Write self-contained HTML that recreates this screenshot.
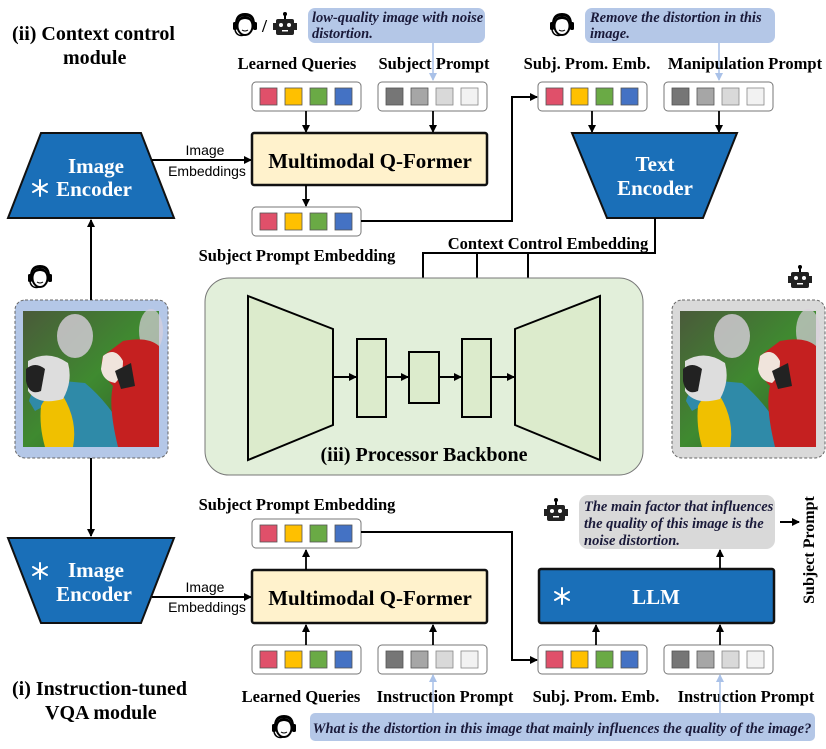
<!DOCTYPE html>
<html><head><meta charset="utf-8"><style>
html,body{margin:0;padding:0;background:#fff;}
svg{display:block;}
.t{font-family:"Liberation Serif",serif;font-weight:bold;fill:#000;}
.s{font-family:"Liberation Sans",sans-serif;fill:#000;}
.i{font-family:"Liberation Serif",serif;font-weight:bold;font-style:italic;fill:#1a1a3a;font-size:14.5px;}
.w{font-family:"Liberation Serif",serif;font-weight:bold;fill:#fff;}
</style></head><body>
<svg width="826" height="749" viewBox="0 0 826 749" xmlns="http://www.w3.org/2000/svg">
<defs>
<marker id="a" markerWidth="8" markerHeight="8" refX="7" refY="4" orient="auto" markerUnits="userSpaceOnUse"><path d="M0,0 L8,4 L0,8 z" fill="#000"/></marker>
<marker id="b" markerWidth="8" markerHeight="8" refX="7" refY="4" orient="auto" markerUnits="userSpaceOnUse"><path d="M0,0 L8,4 L0,8 z" fill="#a9c1e8"/></marker>
<g id="tc">
<rect x="0" y="0" width="109" height="29" rx="4" fill="#fff" stroke="#777" stroke-width="1"/>
<rect x="8" y="6" width="17" height="17" fill="#e0506a" stroke="#555" stroke-width="0.8"/>
<rect x="33" y="6" width="17" height="17" fill="#ffc000" stroke="#555" stroke-width="0.8"/>
<rect x="58" y="6" width="17" height="17" fill="#6aaa45" stroke="#555" stroke-width="0.8"/>
<rect x="83" y="6" width="17" height="17" fill="#4472c4" stroke="#555" stroke-width="0.8"/>
</g>
<g id="tg">
<rect x="0" y="0" width="109" height="29" rx="4" fill="#fff" stroke="#777" stroke-width="1"/>
<rect x="8" y="6" width="17" height="17" fill="#767676" stroke="#555" stroke-width="0.8"/>
<rect x="33" y="6" width="17" height="17" fill="#a6a6a6" stroke="#555" stroke-width="0.8"/>
<rect x="58" y="6" width="17" height="17" fill="#d9d9d9" stroke="#888" stroke-width="0.8"/>
<rect x="83" y="6" width="17" height="17" fill="#f2f2f2" stroke="#888" stroke-width="0.8"/>
</g>
<g id="person">
<path d="M-10,2 Q-11,-12 0,-12 Q11,-12 10,2 L8,2 Q8,-9 0,-9 Q-8,-9 -8,2 z" fill="#000"/>
<ellipse cx="0" cy="1" rx="7.5" ry="9" fill="#fff" stroke="#000" stroke-width="2"/>
<path d="M-7,-3 Q0,-9 7,-3 Q7,-8 0,-9 Q-7,-8 -7,-3 z" fill="#000"/>
<rect x="-12" y="-3" width="4" height="8" rx="1.5" fill="#000"/>
<rect x="8" y="-3" width="4" height="8" rx="1.5" fill="#000"/>
<path d="M-10,5 Q-8,12 -1,10" fill="none" stroke="#000" stroke-width="1.5"/>
<path d="M-3,5 Q0,7 3,5" fill="none" stroke="#000" stroke-width="1"/>
</g>
<g id="robot">
<line x1="0" y1="-12" x2="0" y2="-7" stroke="#000" stroke-width="2"/>
<circle cx="0" cy="-12" r="2" fill="#000"/>
<rect x="-9" y="-7" width="18" height="16" rx="2" fill="#222"/>
<rect x="-12" y="-3" width="3" height="7" fill="#222"/><rect x="9" y="-3" width="3" height="7" fill="#222"/>
<circle cx="-4" cy="-1" r="2" fill="#fff"/><circle cx="4" cy="-1" r="2" fill="#fff"/>
<rect x="-3" y="4" width="6" height="1.5" fill="#fff"/>
</g>
<g id="snow" stroke="#fff" stroke-width="2" stroke-linecap="round">
<line x1="0" y1="-8" x2="0" y2="8"/><line x1="-7" y1="-4" x2="7" y2="4"/><line x1="-7" y1="4" x2="7" y2="-4"/>
</g>
<linearGradient id="bg1" x1="0" y1="0" x2="1" y2="1"><stop offset="0" stop-color="#4a5a3a"/><stop offset="0.5" stop-color="#3f8a30"/><stop offset="1" stop-color="#2f5a28"/></linearGradient>
<g id="parrots">
<rect x="0" y="0" width="136" height="136" fill="url(#bg1)"/>
<ellipse cx="52" cy="25" rx="18" ry="22" fill="#d8d0dc" opacity="0.8"/>
<ellipse cx="128" cy="20" rx="12" ry="22" fill="#d8d0dc" opacity="0.7"/>
<path d="M40,70 Q10,72 6,90 L12,100 L30,90 Q50,120 40,136 L110,136 Q90,95 62,72 z" fill="#2f8aa8"/>
<path d="M18,95 Q25,80 40,85 Q55,110 50,136 L22,136 Q16,115 18,95 z" fill="#f0c000"/>
<path d="M5,50 Q25,38 45,52 Q50,70 40,88 Q15,95 5,80 z" fill="#ddd"/>
<path d="M3,58 Q12,50 22,58 L18,80 Q6,85 3,70 z" fill="#222"/>
<path d="M100,30 Q125,25 136,35 L136,136 L95,136 Q85,95 90,75 Q75,60 80,45 z" fill="#c52020"/>
<path d="M80,45 Q92,35 100,50 Q100,65 92,72 Q80,70 78,58 z" fill="#f0e4dc"/>
<path d="M92,60 L108,52 L112,75 L98,78 z" fill="#222"/>
</g>
</defs>

<!-- Titles -->
<text class="t" x="12" y="40" font-size="20">(ii) Context control</text>
<text class="t" x="63" y="64" font-size="20">module</text>
<text class="t" x="12" y="695" font-size="20">(i) Instruction-tuned</text>
<text class="t" x="45" y="719" font-size="20">VQA module</text>

<!-- Top bubbles -->
<use href="#person" x="245" y="25"/>
<text class="t" x="262" y="32" font-size="18">/</text>
<use href="#robot" x="285" y="26"/>
<rect x="308" y="8" width="177" height="35" rx="7" fill="#b4c7e7"/>
<text class="i" x="312" y="22">low-quality image with noise</text>
<text class="i" x="312" y="38">distortion.</text>
<use href="#person" x="562" y="25"/>
<rect x="585" y="8" width="190" height="35" rx="7" fill="#b4c7e7"/>
<text class="i" x="590" y="22">Remove the distortion in this</text>
<text class="i" x="590" y="38">image.</text>

<line x1="433" y1="43" x2="433" y2="80" stroke="#a9c1e8" stroke-width="1.5" marker-end="url(#b)"/>
<line x1="719" y1="43" x2="719" y2="80" stroke="#a9c1e8" stroke-width="1.5" marker-end="url(#b)"/>

<text class="t" x="297" y="69" font-size="16.5" text-anchor="middle">Learned Queries</text>
<text class="t" x="434" y="69" font-size="16.5" text-anchor="middle">Subject Prompt</text>
<text class="t" x="587" y="69" font-size="16.5" text-anchor="middle">Subj. Prom. Emb.</text>
<text class="t" x="745" y="69" font-size="16.5" text-anchor="middle">Manipulation Prompt</text>

<use href="#tc" x="252" y="82"/>
<use href="#tg" x="378" y="82"/>
<use href="#tc" x="538" y="82"/>
<use href="#tg" x="664" y="82"/>

<line x1="306" y1="111" x2="306" y2="132" stroke="#000" stroke-width="1.8" marker-end="url(#a)"/>
<line x1="433" y1="111" x2="433" y2="132" stroke="#000" stroke-width="1.8" marker-end="url(#a)"/>
<line x1="592" y1="111" x2="592" y2="132" stroke="#000" stroke-width="1.8" marker-end="url(#a)"/>
<line x1="719" y1="111" x2="719" y2="132" stroke="#000" stroke-width="1.8" marker-end="url(#a)"/>

<!-- Top encoder -->
<polygon points="41,133 141,133 174,218 8,218" fill="#1a6fb8" stroke="#111" stroke-width="2"/>
<text class="w" x="96" y="173" font-size="21" text-anchor="middle">Image</text>
<use href="#snow" x="40" y="188"/>
<text class="w" x="94" y="196" font-size="21" text-anchor="middle">Encoder</text>
<line x1="152" y1="160" x2="251" y2="160" stroke="#000" stroke-width="2" marker-end="url(#a)"/>
<text class="s" x="205" y="155" font-size="14" text-anchor="middle">Image</text>
<text class="s" x="207" y="176" font-size="14" text-anchor="middle">Embeddings</text>

<rect x="252" y="133" width="235" height="52" fill="#fff2cc" stroke="#111" stroke-width="2.5" rx="2"/>
<text class="t" x="370" y="168" font-size="21" text-anchor="middle">Multimodal Q-Former</text>

<line x1="306" y1="185" x2="306" y2="206" stroke="#000" stroke-width="1.8" marker-end="url(#a)"/>
<use href="#tc" x="252" y="207"/>
<polyline points="361,221 512,221 512,97 537,97" fill="none" stroke="#000" stroke-width="2" marker-end="url(#a)"/>
<text class="t" x="297" y="261" font-size="16.5" text-anchor="middle">Subject Prompt Embedding</text>

<!-- Text encoder -->
<polygon points="572,133 737,133 703,218 607,218" fill="#1a6fb8" stroke="#111" stroke-width="2"/>
<text class="w" x="655" y="171" font-size="21" text-anchor="middle">Text</text>
<text class="w" x="655" y="195" font-size="21" text-anchor="middle">Encoder</text>

<polyline points="655,218 655,253 423,253 423,350" fill="none" stroke="#000" stroke-width="2" marker-end="url(#a)"/>
<line x1="477" y1="253" x2="477" y2="337" stroke="#000" stroke-width="2" marker-end="url(#a)"/>
<line x1="528" y1="253" x2="528" y2="321" stroke="#000" stroke-width="2" marker-end="url(#a)"/>
<text class="t" x="548" y="249" font-size="16.5" text-anchor="middle">Context Control Embedding</text>

<!-- Backbone -->
<rect x="205" y="278" width="438" height="197" rx="24" fill="#e2efda" stroke="#777" stroke-width="1"/>
<polygon points="248,296 333,329 333,425 248,460" fill="#dcebcc" stroke="#000" stroke-width="2"/>
<rect x="357" y="339" width="29" height="78" fill="#dcebcc" stroke="#000" stroke-width="2"/>
<rect x="409" y="352" width="30" height="51" fill="#dcebcc" stroke="#000" stroke-width="2"/>
<rect x="462" y="339" width="29" height="78" fill="#dcebcc" stroke="#000" stroke-width="2"/>
<polygon points="515,329 600,296 600,460 515,425" fill="#dcebcc" stroke="#000" stroke-width="2"/>
<line x1="333" y1="377" x2="356" y2="377" stroke="#000" stroke-width="2" marker-end="url(#a)"/>
<line x1="386" y1="377" x2="408" y2="377" stroke="#000" stroke-width="2" marker-end="url(#a)"/>
<line x1="439" y1="377" x2="461" y2="377" stroke="#000" stroke-width="2" marker-end="url(#a)"/>
<line x1="491" y1="377" x2="514" y2="377" stroke="#000" stroke-width="2" marker-end="url(#a)"/>
<text class="t" x="424" y="461" font-size="20" text-anchor="middle">(iii) Processor Backbone</text>

<!-- Images -->
<use href="#person" x="40" y="277"/>
<use href="#robot" x="800" y="279"/>
<rect x="15" y="300" width="153" height="158" rx="10" fill="#b4c7e7" stroke="#666" stroke-width="1" stroke-dasharray="3,2"/>
<use href="#parrots" x="23" y="311"/>
<rect x="672" y="300" width="153" height="158" rx="10" fill="#d9d9d9" stroke="#666" stroke-width="1" stroke-dasharray="3,2"/>
<use href="#parrots" x="680" y="311"/>

<line x1="91" y1="300" x2="91" y2="220" stroke="#000" stroke-width="2" marker-end="url(#a)"/>
<line x1="91" y1="458" x2="91" y2="536" stroke="#000" stroke-width="2" marker-end="url(#a)"/>

<!-- Bottom -->
<text class="t" x="297" y="510" font-size="16.5" text-anchor="middle">Subject Prompt Embedding</text>
<use href="#tc" x="252" y="519"/>
<polygon points="8,538 174,538 141,623 41,623" fill="#1a6fb8" stroke="#111" stroke-width="2"/>
<use href="#snow" x="40" y="571"/>
<text class="w" x="96" y="577" font-size="21" text-anchor="middle">Image</text>
<text class="w" x="94" y="601" font-size="21" text-anchor="middle">Encoder</text>
<line x1="152" y1="597" x2="251" y2="597" stroke="#000" stroke-width="2" marker-end="url(#a)"/>
<text class="s" x="205" y="592" font-size="14" text-anchor="middle">Image</text>
<text class="s" x="207" y="612" font-size="14" text-anchor="middle">Embeddings</text>

<rect x="252" y="570" width="235" height="53" fill="#fff2cc" stroke="#111" stroke-width="2.5" rx="2"/>
<text class="t" x="370" y="605" font-size="21" text-anchor="middle">Multimodal Q-Former</text>
<line x1="306" y1="570" x2="306" y2="550" stroke="#000" stroke-width="1.8" marker-end="url(#a)"/>

<rect x="539" y="569" width="235" height="54" fill="#1a6fb8" stroke="#111" stroke-width="2.5" rx="2"/>
<use href="#snow" x="562" y="596"/>
<text class="w" x="656" y="604" font-size="21" text-anchor="middle">LLM</text>

<polyline points="361,532 512,532 512,660 537,660" fill="none" stroke="#000" stroke-width="2" marker-end="url(#a)"/>

<use href="#tc" x="252" y="645"/>
<use href="#tg" x="378" y="645"/>
<use href="#tc" x="538" y="645"/>
<use href="#tg" x="664" y="645"/>
<line x1="306" y1="645" x2="306" y2="625" stroke="#000" stroke-width="1.8" marker-end="url(#a)"/>
<line x1="433" y1="645" x2="433" y2="625" stroke="#000" stroke-width="1.8" marker-end="url(#a)"/>
<line x1="596" y1="645" x2="596" y2="625" stroke="#000" stroke-width="1.8" marker-end="url(#a)"/>
<line x1="720" y1="645" x2="720" y2="625" stroke="#000" stroke-width="1.8" marker-end="url(#a)"/>
<line x1="720" y1="569" x2="720" y2="550" stroke="#000" stroke-width="1.8" marker-end="url(#a)"/>

<use href="#robot" x="556" y="512"/>
<rect x="579" y="495" width="196" height="54" rx="9" fill="#d9d9d9"/>
<text class="i" x="584" y="511">The main factor that influences</text>
<text class="i" x="584" y="528">the quality of this image is the</text>
<text class="i" x="584" y="545">noise distortion.</text>
<line x1="780" y1="522" x2="799" y2="522" stroke="#000" stroke-width="2" marker-end="url(#a)"/>
<text class="t" x="0" y="0" font-size="16" transform="translate(814,550) rotate(-90)" text-anchor="middle">Subject Prompt</text>

<text class="t" x="301" y="702" font-size="16.5" text-anchor="middle">Learned Queries</text>
<text class="t" x="445" y="702" font-size="16.5" text-anchor="middle">Instruction Prompt</text>
<text class="t" x="596" y="702" font-size="16.5" text-anchor="middle">Subj. Prom. Emb.</text>
<text class="t" x="746" y="702" font-size="16.5" text-anchor="middle">Instruction Prompt</text>

<line x1="433" y1="713" x2="433" y2="675" stroke="#a9c1e8" stroke-width="1.5" marker-end="url(#b)"/>
<line x1="720" y1="713" x2="720" y2="675" stroke="#a9c1e8" stroke-width="1.5" marker-end="url(#b)"/>
<use href="#person" x="284" y="727"/>
<rect x="310" y="713" width="505" height="28" rx="5" fill="#b4c7e7"/>
<text class="i" x="562" y="733" font-size="15.5" text-anchor="middle">What is the distortion in this image that mainly influences the quality of the image?</text>
</svg>
</body></html>
